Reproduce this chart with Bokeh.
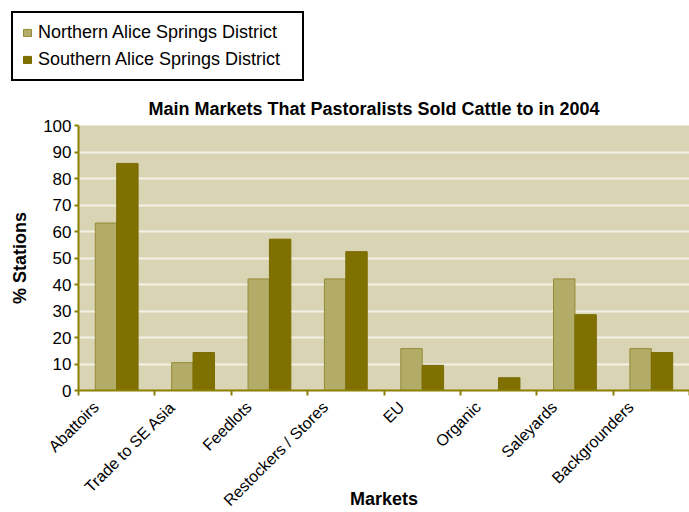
from bokeh.plotting import figure
from bokeh.layouts import column
from bokeh.models import (ColumnDataSource, FixedTicker, Legend, LegendItem, Range1d)
from bokeh.transform import dodge
from bokeh.embed import file_html
from bokeh.resources import INLINE
import math

categories = ["Abattoirs", "Trade to SE Asia", "Feedlots", "Restockers / Stores",
              "EU", "Organic", "Saleyards", "Backgrounders"]
northern = [63.2, 10.5, 42.1, 42.1, 15.8, 0.0, 42.1, 15.8]
southern = [85.7, 14.3, 57.1, 52.4, 9.5, 4.8, 28.6, 14.3]
series_names = ["Northern Alice Springs District", "Southern Alice Springs District"]
y_ticks = list(range(0, 101, 10))

FONT = "Liberation Sans"
N_COLOR = "#B3AC68"
S_COLOR = "#807000"
N_LINE = "#948A36"
S_LINE = "#7A6B00"
AXIS_COLOR = "#8C8000"

centers = [i + 0.5 for i in range(len(categories))]
label_pos = [c - 0.27 for c in centers]
src = ColumnDataSource(dict(x=centers, north=northern, south=southern, cat=categories))

# ---------- legend strip ----------
lp = figure(width=689, height=85, output_backend="svg", toolbar_location=None,
            x_range=Range1d(-100, -99), y_range=Range1d(0, 1),
            x_axis_location=None, y_axis_location=None, min_border=0)
lp.frame_align = False
lp.grid.visible = False
lp.outline_line_color = None
lp.background_fill_color = "white"
lr1 = lp.vbar(x="x", top="north", width=0.28, source=src,
              fill_color=N_COLOR, line_color=N_LINE)
lr2 = lp.vbar(x="x", top="south", width=0.28, source=src,
              fill_color=S_COLOR, line_color=S_LINE)
legend = Legend(items=[LegendItem(label=series_names[0], renderers=[lr1]),
                       LegendItem(label=series_names[1], renderers=[lr2])],
                location="top_left", orientation="vertical")
legend.label_text_font = FONT
legend.label_text_font_size = "18px"
legend.label_text_color = "black"
legend.glyph_width = 10
legend.glyph_height = 9
legend.label_height = 20
legend.label_width = 255
legend.spacing = 6
legend.padding = 9
legend.margin = 11
legend.border_line_color = "black"
legend.border_line_alpha = 1
legend.border_line_width = 2
legend.background_fill_color = "white"
legend.background_fill_alpha = 1
legend.label_standoff = 6
lp.add_layout(legend, "center")

# ---------- main chart ----------
p = figure(width=689, height=427, output_backend="svg", toolbar_location=None,
           x_range=Range1d(0, len(categories)), y_range=Range1d(0, 100),
           min_border_left=78, min_border_right=0, min_border_top=40,
           min_border_bottom=122)
p.frame_align = False

p.background_fill_color = "#D9D4B3"
p.border_fill_color = "white"
p.outline_line_color = None

p.vbar(x=dodge("x", -0.14, range=p.x_range), top="north", width=0.28, source=src,
       fill_color=N_COLOR, line_color=N_LINE, line_width=1)
p.vbar(x=dodge("x", 0.14, range=p.x_range), top="south", width=0.28, source=src,
       fill_color=S_COLOR, line_color=S_LINE, line_width=1)

p.title.text = "Main Markets That Pastoralists Sold Cattle to in 2004"
p.title.text_font = FONT
p.title.text_font_size = "18px"
p.title.text_font_style = "bold"
p.title.text_color = "black"
p.title.align = "left"
p.title.offset = 70
p.title.standoff = 14

p.xgrid.grid_line_color = None
p.ygrid.ticker = FixedTicker(ticks=y_ticks)
p.ygrid.grid_line_color = "#F4F1E6"
p.ygrid.grid_line_width = 2

p.yaxis.ticker = FixedTicker(ticks=y_ticks)
p.yaxis.axis_line_color = AXIS_COLOR
p.yaxis.axis_line_width = 2
p.yaxis.major_tick_line_color = AXIS_COLOR
p.yaxis.major_tick_line_width = 2
p.yaxis.major_tick_in = 0
p.yaxis.major_tick_out = 4
p.yaxis.minor_tick_line_color = None
p.yaxis.major_label_text_font = FONT
p.yaxis.major_label_text_font_size = "17px"
p.yaxis.major_label_text_color = "black"
p.yaxis.major_label_standoff = 3
p.yaxis.axis_label = "% Stations"
p.yaxis.axis_label_text_font = FONT
p.yaxis.axis_label_text_font_size = "18px"
p.yaxis.axis_label_text_font_style = "bold"
p.yaxis.axis_label_text_color = "black"
p.yaxis.axis_label_standoff = 10

p.xaxis.ticker = FixedTicker(ticks=label_pos, minor_ticks=list(range(len(categories) + 1)))
p.xaxis.major_label_overrides = {pos: name for pos, name in zip(label_pos, categories)}
p.xaxis.major_label_orientation = math.pi / 4
p.xaxis.major_label_text_font = FONT
p.xaxis.major_label_text_font_size = "16px"
p.xaxis.major_label_text_color = "black"
p.xaxis.major_label_standoff = 8
p.xaxis.major_tick_line_color = None
p.xaxis.minor_tick_line_color = AXIS_COLOR
p.xaxis.minor_tick_line_width = 2
p.xaxis.minor_tick_in = 0
p.xaxis.minor_tick_out = 5
p.xaxis.axis_line_color = AXIS_COLOR
p.xaxis.axis_line_width = 2
p.xaxis.axis_label = "Markets"
p.xaxis.axis_label_text_font = FONT
p.xaxis.axis_label_text_font_size = "18px"
p.xaxis.axis_label_text_font_style = "bold"
p.xaxis.axis_label_text_color = "black"
p.xaxis.axis_label_standoff = -29

layout = column(lp, p, spacing=0)
open("out.html", "w").write(file_html(layout, INLINE))
